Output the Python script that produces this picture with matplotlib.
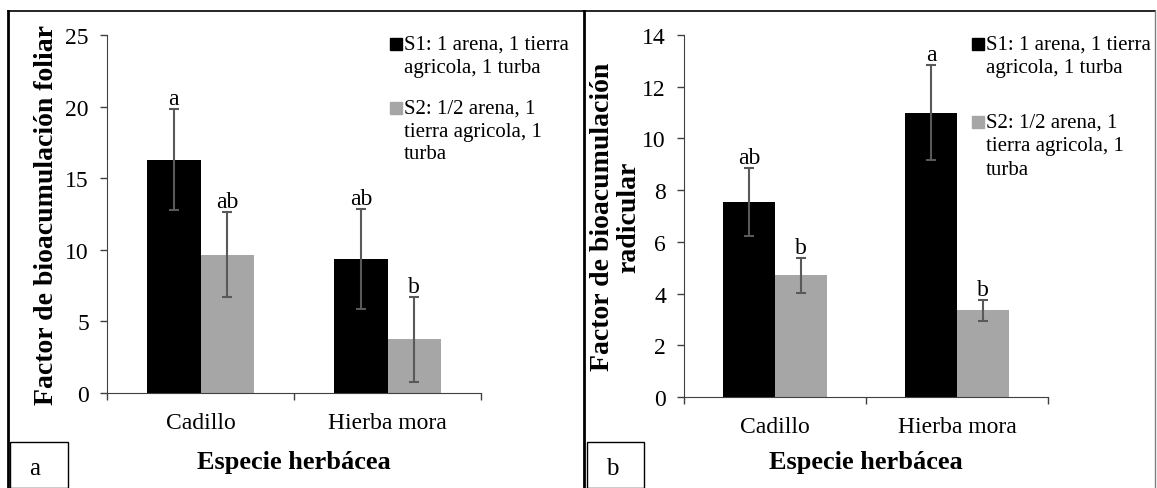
import matplotlib.pyplot as plt
import numpy as np
from matplotlib.patches import Rectangle
from matplotlib.lines import Line2D

plt.rcParams['font.family'] = ['Liberation Serif', 'DejaVu Serif']

species = ['Cadillo', 'Hierba mora']
series_labels = ['S1: 1 arena, 1 tierra\nagricola, 1 turba',
                 'S2: 1/2 arena, 1\ntierra agricola, 1\nturba']
colors = ['#000000', '#a6a6a6']

# foliar (panel a)
foliar_s1 = [16.3, 9.35]
foliar_s2 = [9.65, 3.75]
foliar_s1_err = [3.5, 3.5]
foliar_s2_err = [2.97, 2.97]
foliar_s1_letters = ['a', 'ab']
foliar_s2_letters = ['ab', 'b']

# radicular (panel b)
radic_s1 = [7.55, 11.0]
radic_s2 = [4.7, 3.36]
radic_s1_err = [1.32, 1.83]
radic_s2_err = [0.69, 0.41]
radic_s1_letters = ['ab', 'a']
radic_s2_letters = ['b', 'b']

W, H = 1157, 489
fig = plt.figure(figsize=(W / 100, H / 100), dpi=100)


def fx(px):
    return px / W


def fy(py):
    return 1 - py / H


def panel(rect, s1, s2, e1, e2, l1, l2, ymax, ystep, ylabel, ylab_x, leg, leg_ls):
    ax = fig.add_axes(rect)
    x = np.arange(len(species))
    w = 0.285
    ekw = dict(ecolor='#595959', elinewidth=1.5, capsize=3.8, capthick=1.5)
    ax.bar(x - w / 2, s1, w, color=colors[0], yerr=e1, error_kw=ekw, zorder=2)
    ax.bar(x + w / 2, s2, w, color=colors[1], yerr=e2, error_kw=ekw, zorder=2)
    for xi, v, e, t in zip(x - w / 2, s1, e1, l1):
        ax.annotate(t, (xi, v + e), xytext=(0, 0), textcoords='offset points',
                    ha='center', va='bottom', fontsize=17)
    for xi, v, e, t in zip(x + w / 2, s2, e2, l2):
        ax.annotate(t, (xi, v + e), xytext=(0, 0), textcoords='offset points',
                    ha='center', va='bottom', fontsize=17)

    ax.set_xlim(-0.5, 1.5)
    ax.set_ylim(0, ymax)
    ax.set_yticks(np.arange(0, ymax + 0.1, ystep))
    ax.set_xticks(x)
    ax.set_xticklabels(species)
    ax.set_xticks([-0.5, 0.5, 1.5], minor=True)
    ax.tick_params(axis='x', which='major', length=0, pad=14, labelsize=17)
    ax.tick_params(axis='x', which='minor', length=5, width=1, color='#404040')
    ax.tick_params(axis='y', length=5, width=1, color='#404040', pad=8, labelsize=17)
    for s in ['top', 'right']:
        ax.spines[s].set_visible(False)
    for s in ['left', 'bottom']:
        ax.spines[s].set_color('#404040')

    ax.set_ylabel(ylabel, fontsize=20, fontweight='bold', linespacing=1.05)
    ax.yaxis.set_label_coords(ylab_x, 0.5)
    cx = rect[0] + rect[2] / 2
    fig.text(cx, fy(463), 'Especie herbácea', fontsize=19, fontweight='bold',
             ha='center', va='center')

    # legend entries: square marker aligned with the first text line
    sq_x, txt_x, ys = leg
    for c, lab, y in zip(colors, series_labels, ys):
        fig.patches.append(Rectangle((fx(sq_x), fy(y + 6)), fx(12), 12 / H,
                                     color=c, transform=fig.transFigure))
        fig.text(fx(txt_x), fy(y - 9), lab, fontsize=15, va='top', ha='left',
                 linespacing=leg_ls)
    return ax


panel([fx(107), fy(394), fx(374), 358 / H], foliar_s1, foliar_s2,
      foliar_s1_err, foliar_s2_err, foliar_s1_letters, foliar_s2_letters,
      25, 5, 'Factor de bioacumulación foliar', -0.128,
      (390, 404, [45, 109]), 1.25)
panel([fx(684), fy(398), fx(364), 362 / H], radic_s1, radic_s2,
      radic_s1_err, radic_s2_err, radic_s1_letters, radic_s2_letters,
      14, 2, 'Factor de bioacumulación\nradicular', -0.117,
      (972, 986, [45, 123]), 1.32)

# panel frames
frame = dict(color='black', transform=fig.transFigure)
fig.add_artist(Line2D([fx(8), fx(1155)], [fy(12), fy(12)], lw=1.2, **frame))
fig.add_artist(Line2D([fx(8), fx(8)], [fy(12), 0], lw=2, **frame))
fig.add_artist(Line2D([fx(584), fx(584)], [fy(12), 0], lw=2, **frame))
fig.add_artist(Line2D([fx(1155), fx(1155)], [fy(12), 0], lw=1, color='#808080',
                      transform=fig.transFigure))

# panel tags
for x0, x1, tag in [(10, 68, 'a'), (587, 644, 'b')]:
    fig.patches.append(Rectangle((fx(x0), 0), fx(x1 - x0), fy(443), fill=False,
                                 edgecolor='black', lw=1, transform=fig.transFigure))
    fig.text(fx(x0 + 25), fy(469), tag, fontsize=18, ha='center', va='center')

fig.savefig('out.png', dpi=100)
